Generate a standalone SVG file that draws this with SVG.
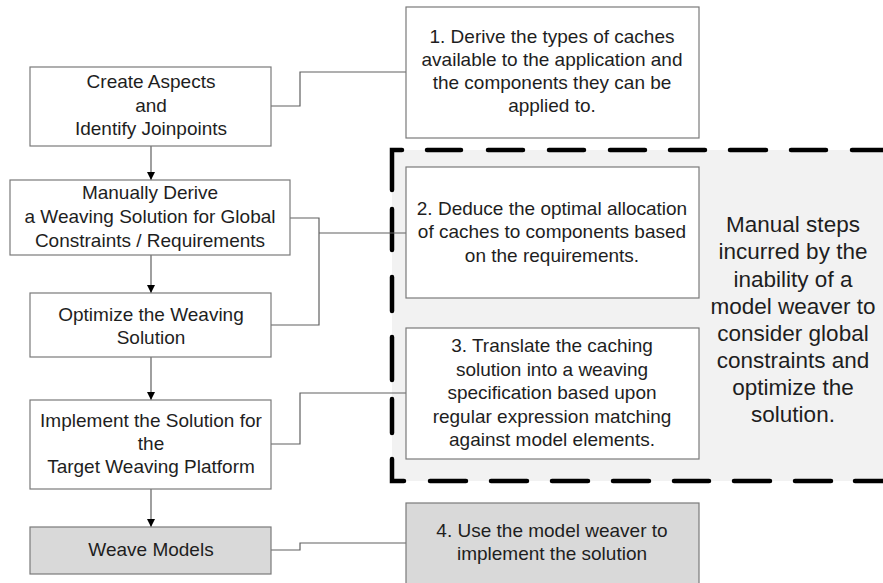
<svg xmlns="http://www.w3.org/2000/svg" width="883" height="583" viewBox="0 0 883 583">
<defs>
<style>
.box{fill:#fff;stroke:#7a7a7a;stroke-width:1.2}
.gray{fill:#d9d9d9}
.t{font-family:"Liberation Sans",Arial,sans-serif;font-size:19px;fill:#1e1e1e;text-anchor:middle}
.big{font-size:22.5px}
.conn{fill:none;stroke:#606060;stroke-width:1.2}
.dash{fill:none;stroke:#000;stroke-width:4.5;stroke-linecap:round;stroke-linejoin:miter}
</style>
<marker id="arr" viewBox="0 0 10 10" refX="10" refY="5" markerWidth="8" markerHeight="8" markerUnits="userSpaceOnUse" orient="auto">
<path d="M0,0 L10,5 L0,10 Z" fill="#000"/>
</marker>
</defs>
<rect width="883" height="583" fill="#fff"/>

<g id="manual-region">
<rect x="392" y="150" width="491" height="331" fill="#f2f2f2"/>
<path class="dash" d="M392,190 V150 H402 M427,150 H461 M488,150 H523 M549,150 H584 M610,150 H645 M670,150 H705 M730,150 H766 M791,150 H826 M852,150 H887 M392,209 V250 M392,277 V311 M392,337 V380 M392,399 V433 M392,459 V481 H404 M430,481 H466 M491,481 H527 M552,481 H588 M613,481 H649 M674,481 H709 M734,481 H770 M795,481 H831 M855,481 H891"/>
<text class="t big" x="793" y="232">Manual steps</text>
<text class="t big" x="793" y="259">incurred by the</text>
<text class="t big" x="793" y="287">inability of a</text>
<text class="t big" x="793" y="314">model weaver to</text>
<text class="t big" x="793" y="341">consider global</text>
<text class="t big" x="793" y="368">constraints and</text>
<text class="t big" x="793" y="395">optimize the</text>
<text class="t big" x="793" y="422">solution.</text>
</g>

<g id="connectors">
<line class="conn" x1="151" y1="146" x2="151" y2="180" marker-end="url(#arr)"/>
<line class="conn" x1="151" y1="255" x2="151" y2="293" marker-end="url(#arr)"/>
<line class="conn" x1="151" y1="357" x2="151" y2="400" marker-end="url(#arr)"/>
<line class="conn" x1="151" y1="489" x2="151" y2="527" marker-end="url(#arr)"/>
<polyline class="conn" points="271,106 300,106 300,72 406,72"/>
<polyline class="conn" points="290,218 319,218 319,325 271,325"/>
<line class="conn" x1="319" y1="233" x2="406" y2="233"/>
<polyline class="conn" points="271,444 300,444 300,393 406,393"/>
<polyline class="conn" points="271,550 300,550 300,543 406,543"/>
</g>

<g id="create-aspects">
<rect class="box" x="30" y="67" width="241" height="79"/>
<text class="t" x="151" y="88">Create Aspects</text>
<text class="t" x="151" y="112">and</text>
<text class="t" x="151" y="135">Identify Joinpoints</text>
</g>

<g id="manually-derive">
<rect class="box" x="10" y="180" width="280" height="75"/>
<text class="t" x="150" y="199">Manually Derive</text>
<text class="t" x="150" y="223">a Weaving Solution for Global</text>
<text class="t" x="150" y="247">Constraints / Requirements</text>
</g>

<g id="optimize">
<rect class="box" x="30" y="293" width="241" height="64"/>
<text class="t" x="151" y="321">Optimize the Weaving</text>
<text class="t" x="151" y="344">Solution</text>
</g>

<g id="implement">
<rect class="box" x="30" y="400" width="241" height="89"/>
<text class="t" x="151" y="427">Implement the Solution for</text>
<text class="t" x="151" y="450">the</text>
<text class="t" x="151" y="473">Target Weaving Platform</text>
</g>

<g id="weave-models">
<rect class="box gray" x="30" y="527" width="241" height="47"/>
<text class="t" x="151" y="556">Weave Models</text>
</g>

<g id="step1">
<rect class="box" x="406" y="7" width="293" height="131"/>
<text class="t" x="552" y="43">1. Derive the types of caches</text>
<text class="t" x="552" y="66">available to the application and</text>
<text class="t" x="552" y="89">the components they can be</text>
<text class="t" x="552" y="112">applied to.</text>
</g>

<g id="step2">
<rect class="box" x="406" y="167" width="293" height="131"/>
<text class="t" x="552" y="215">2. Deduce the optimal allocation</text>
<text class="t" x="552" y="238">of caches to components based</text>
<text class="t" x="552" y="262">on the requirements.</text>
</g>

<g id="step3">
<rect class="box" x="406" y="328" width="293" height="131"/>
<text class="t" x="552" y="352">3. Translate the caching</text>
<text class="t" x="552" y="376">solution into a weaving</text>
<text class="t" x="552" y="399">specification based upon</text>
<text class="t" x="552" y="423">regular expression matching</text>
<text class="t" x="552" y="446">against model elements.</text>
</g>

<g id="step4">
<rect class="box gray" x="406" y="503" width="293" height="90"/>
<text class="t" x="552" y="537">4. Use the model weaver to</text>
<text class="t" x="552" y="560">implement the solution</text>
</g>
</svg>
